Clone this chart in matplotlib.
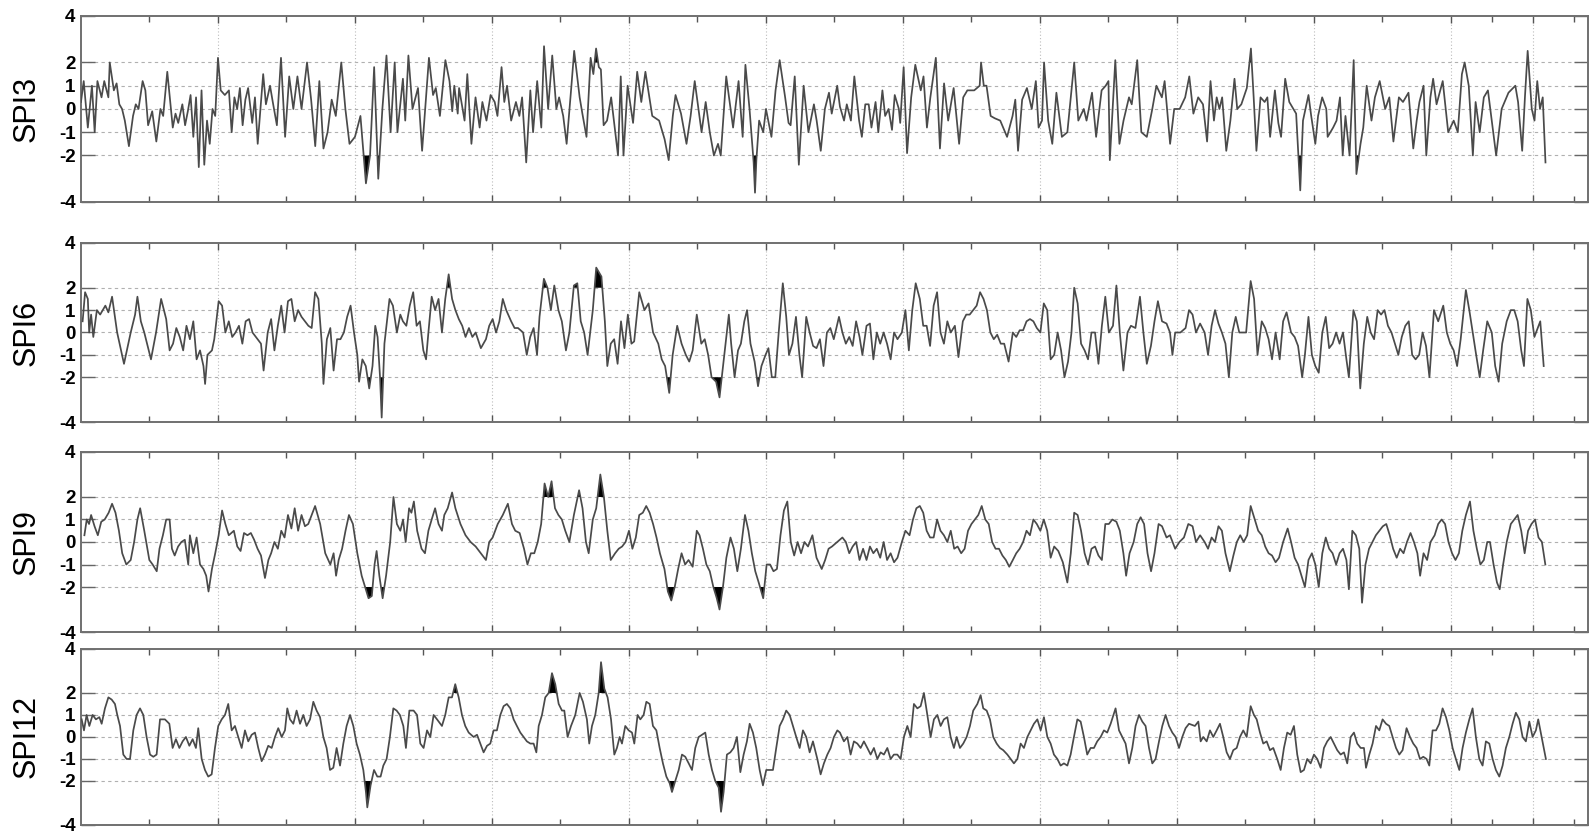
import numpy as np
import matplotlib
matplotlib.use("Agg")
import matplotlib.pyplot as plt

plt.rcParams["font.family"] = ["Liberation Sans", "DejaVu Sans"]

labels = ["SPI3", "SPI6", "SPI9", "SPI12"]
yticks = [-4, -2, -1, 0, 1, 2, 4]
grid_y = [-2, -1, 0, 1, 2]
major_x = [10, 20, 30, 40, 50, 60, 70, 80, 90, 100, 106]
minor_x = [5, 15, 25, 35, 45, 55, 65, 75, 85, 95, 103, 109]

# (time in years, SPI value)
spi3 = [
    (0.0, 0.3), (0.2, 1.2), (0.5, -0.8), (0.8, 1.0), (1.0, -1.0), (1.2, 1.2), (1.5, 0.5), (1.7, 1.2),
    (2.0, 0.5), (2.1, 2.0), (2.4, 0.8), (2.6, 1.1), (2.8, 0.2), (3.0, 0.0), (3.2, -0.5), (3.5, -1.6),
    (3.8, -0.3), (4.0, 0.2), (4.2, 0.0), (4.5, 1.2), (4.7, 0.8), (4.9, -0.7), (5.2, -0.1), (5.5, -1.4),
    (5.8, 0.0), (6.0, -0.3), (6.3, 1.6), (6.5, 0.4), (6.7, -0.8), (6.9, -0.2), (7.1, -0.6), (7.4, 0.2),
    (7.6, -0.7), (7.8, -0.1), (8.0, 0.6), (8.2, -1.2), (8.4, 0.5), (8.6, -2.5), (8.8, 0.8), (9.0, -2.4),
    (9.2, -0.5), (9.4, -1.5), (9.6, 0.0), (9.8, -0.3), (10.0, 2.2), (10.2, 0.8), (10.5, 0.6), (10.8, 0.8),
    (11.0, -1.0), (11.2, 0.5), (11.4, 0.0), (11.6, 0.9), (11.8, -0.7), (12.0, 0.4), (12.2, 0.9), (12.5, -0.6),
    (12.7, 0.5), (12.9, -1.5), (13.3, 1.5), (13.5, 0.2), (13.8, 1.0), (14.0, 0.3), (14.3, -0.7), (14.6, 2.2),
    (14.9, -1.2), (15.2, 1.4), (15.5, 0.0), (15.8, 1.4), (16.1, 0.0), (16.5, 2.0), (16.8, 0.4), (17.1, -1.6),
    (17.4, 1.2), (17.7, -1.7), (18.0, -1.0), (18.3, 0.4), (18.6, -0.3), (19.0, 2.0), (19.3, 0.0), (19.6, -1.5),
    (20.0, -1.2), (20.4, -0.3), (20.8, -3.2), (21.1, -2.0), (21.4, 1.8), (21.7, -3.0), (22.0, 0.0), (22.3, 2.3),
    (22.6, -1.0), (22.9, 2.0), (23.1, -1.0), (23.5, 1.3),
    (23.67, -0.5), (23.9, 2.3), (24.2, 0.0), (24.6, 0.9), (24.9, -1.8), (25.4, 2.2), (25.7, 0.6), (25.9, 0.9),
    (26.2, -0.3), (26.6, 2.1), (26.9, 1.2), (27.1, -0.1), (27.25, 1.0), (27.5, -0.2), (27.6, 0.9), (28.0, -0.5),
    (28.2, 1.5), (28.5, -1.5), (28.8, 0.5), (29.1, -0.8), (29.3, 0.3), (29.6, -0.5), (29.9, 0.6), (30.2, 0.3),
    (30.4, -0.3), (30.7, 1.8), (30.9, 0.3), (31.1, 1.0), (31.4, -0.5), (31.75, 0.3), (32.0, -0.3), (32.2, 0.5),
    (32.5, -2.3), (32.8, 0.8), (33.0, -1.0), (33.3, 1.2), (33.6, -0.8), (33.8, 2.7), (34.1, 0.0), (34.4, 2.3),
    (34.7, 0.0), (34.9, 0.5), (35.2, -0.3), (35.45, -1.5), (35.8, 1.0), (36.0, 2.5), (36.4, 0.5), (36.6, -0.2),
    (36.9, -1.2), (37.2, 2.2), (37.4, 1.5), (37.6, 2.6), (37.8, 1.8), (37.95, 1.7), (38.15, -0.7), (38.4, -0.5),
    (38.7, 0.5), (38.9, -0.5), (39.2, -2.0), (39.4, 1.4), (39.6, -2.0), (39.9, 1.0), (40.3, -0.6), (40.6, 1.6),
    (40.9, 0.3), (41.2, 1.6), (41.7, -0.3), (42.2, -0.5), (42.6, -1.3), (42.9, -2.2), (43.2, -0.3), (43.4, 0.6),
    (43.8, -0.2), (44.2, -1.5), (44.5, -0.3), (44.8, 1.2), (45.3, -1.0), (45.6, 0.3), (45.9, -1.0), (46.2, -2.0),
    (46.5, -1.5), (46.7, -2.0), (47.1, 1.4), (47.6, -0.8), (48.0, 1.2), (48.3, -1.2), (48.5, 1.9), (48.8, 0.0),
    (49.1, -2.3), (49.2, -3.6), (49.3, -2.2), (49.5, -0.5), (49.8, -1.0), (50.0, 0.0), (50.4, -1.2), (50.7, 0.8),
    (51.0, 2.1), (51.4, 0.5), (51.65, -0.6), (51.8, -0.7), (52.1, 1.4), (52.4, -2.4),
    (52.75, 1.0), (53.1, -1.0), (53.5, 0.2), (53.7, -0.5), (54.0, -1.8), (54.3, 0.0), (54.6, 0.7), (54.8, -0.2),
    (55.2, 1.0), (55.4, 0.1), (55.7, -0.5), (55.9, 0.2), (56.2, -0.5), (56.45, 1.4), (56.8, -0.5), (57.0, -1.2),
    (57.25, 0.2), (57.5, 0.2), (57.7, -0.8), (58.0, 0.3), (58.2, -1.0), (58.5, 0.8), (58.7, -0.3), (58.95, 0.0),
    (59.2, -0.9), (59.4, 0.6), (59.7, 0.0), (59.8, -0.6), (60.05, 1.8), (60.3, -1.9), (60.6, 0.5), (60.9, 1.9),
    (61.3, 0.8), (61.5, 1.4), (61.75, -0.8), (62.0, 0.5), (62.4, 2.2), (62.7, -1.7), (63.0, 1.1), (63.3, -0.5),
    (63.7, 0.9), (64.1, -1.5), (64.4, 0.5), (64.7, 0.8), (65.2, 0.8), (65.6, 1.0), (65.7, 2.0), (65.9, 1.0),
    (66.1, 1.0), (66.4, -0.3), (66.7, -0.4), (67.1, -0.5), (67.6, -1.2), (68.0, -0.3), (68.2, 0.4), (68.4, -1.8),
    (68.7, 0.4), (69.05, 0.9), (69.4, 0.0), (69.7, 1.2), (69.9, -0.8), (70.15, -0.5), (70.3, 2.0), (70.6, -0.5),
    (70.9, -1.5), (71.2, 0.7), (71.6, -1.2), (72.0, -1.0), (72.5, 2.0), (72.8, -0.5), (73.2, 0.0), (73.4, -0.5),
    (73.8, 0.7), (74.1, -1.2), (74.5, 0.8), (74.8, 1.0), (75.0, 1.2), (75.1, -2.2), (75.5, 2.1), (75.8, -1.5),
    (76.1, -0.5), (76.5, 0.5), (76.7, 0.2), (77.1, 2.1), (77.4, -1.0), (77.8, -1.2), (78.2, 0.0), (78.5, 1.0),
    (78.9, 0.5), (79.1, 1.2), (79.5, -1.5), (79.8, 0.0), (80.2, 0.0), (80.6, 0.5), (80.9, 1.4),
    (81.2, -0.2), (81.55, 0.5), (81.9, 0.2), (82.2, -1.4), (82.45, 1.2), (82.7, -0.5), (82.9, 0.5), (83.1, 0.0),
    (83.3, 0.5), (83.6, -1.8), (83.9, -0.5), (84.2, 1.3), (84.4, 0.0), (84.7, 0.2), (85.1, 0.9), (85.4, 2.6),
    (85.6, 0.5), (85.8, -1.8), (86.1, 0.5), (86.4, 0.3), (86.6, 0.5), (86.8, -1.2), (87.15, 0.8), (87.4, -0.6),
    (87.6, -1.2), (87.9, 1.3), (88.2, 0.3), (88.5, 0.0), (88.7, -0.2), (89.0, -3.5), (89.2, -0.5), (89.6, 0.6),
    (89.8, -0.3), (90.1, -1.5), (90.3, -0.3), (90.6, 0.5), (90.9, 0.0), (91.0, -1.2), (91.4, -0.8), (91.65, -0.5),
    (91.9, 0.5), (92.1, -2.0), (92.3, -0.3), (92.6, -2.0), (92.9, 2.1), (93.1, -2.8), (93.4, -1.5), (93.6, -0.8),
    (93.85, 1.0), (94.2, -0.5), (94.45, 0.5), (94.8, 1.2), (95.2, 0.0), (95.5, 0.5), (95.8, -1.4), (96.2, 0.5),
    (96.5, 0.3), (96.9, 0.7), (97.25, -1.7), (97.5, -0.5), (97.7, 0.3), (98.0, 1.0), (98.2, -2.0), (98.5, 0.5),
    (98.7, 1.3), (98.95, 0.2), (99.4, 1.2), (99.8, -1.0), (100.2, -0.5), (100.5, -1.0), (100.8, 1.5), (101.0, 2.0),
    (101.3, 1.0), (101.6, -2.0), (101.8, 0.3), (102.1, -1.0), (102.4, 0.5), (102.7, 0.8), (103.3, -2.0), (103.7, 0.0),
    (104.2, 0.7), (104.7, 1.0), (104.9, 0.3), (105.2, -1.8), (105.4, 0.5), (105.6, 2.5), (105.9, 0.0), (106.1, -0.5),
    (106.3, 1.2), (106.5, 0.0), (106.7, 0.5), (106.9, -2.3),
]

spi6 = [
    (0.12, 0.5), (0.3, 1.8), (0.5, 1.5), (0.6, 0.0), (0.74, 0.8), (0.9, -0.2), (1.16, 1.0), (1.4, 0.8),
    (1.78, 1.2), (2.0, 0.9), (2.27, 1.6), (2.64, 0.0), (3.14, -1.4), (3.63, 0.0), (3.95, 0.8), (4.12, 1.6),
    (4.37, 0.5), (4.62, 0.0), (5.11, -1.2), (5.48, 0.0), (5.85, 1.5), (6.22, 0.6), (6.47, -0.8), (6.72, -0.5),
    (6.96, 0.2), (7.21, -0.2), (7.46, -0.8), (7.7, 0.3), (7.95, -0.3), (8.2, 0.5), (8.44, -1.2), (8.69, -0.8),
    (8.94, -1.5), (9.06, -2.3), (9.23, -1.0), (9.56, -0.8), (9.73, -0.3), (10.05, 1.4), (10.3, 1.2), (10.54, 0.0),
    (10.79, 0.5), (11.04, -0.2), (11.28, 0.0), (11.53, 0.3), (11.78, -0.5), (12.02, 0.5), (12.27, 0.6), (12.52, 0.0),
    (12.89, -0.3), (13.14, -0.5), (13.33, -1.7), (13.63, 0.0), (13.88, 0.6), (14.12, -0.8), (14.37, 0.3), (14.62, 1.2),
    (14.86, 0.0), (15.11, 1.4), (15.36, 1.5), (15.6, 0.5), (15.85, 1.0), (16.1, 0.7), (16.35, 0.5), (16.6, 0.3),
    (16.84, 0.2), (17.09, 1.8), (17.33, 1.5), (17.58, -0.5), (17.7, -2.3), (17.95, -0.3), (18.2, 0.2), (18.44, -1.7),
    (18.69, -0.3), (18.94, -0.3), (19.19, 0.0), (19.43, 0.7), (19.68, 1.2), (19.93, 0.0), (20.17, -1.0), (20.3, -2.2),
    (20.54, -1.2), (20.79, -1.5), (21.04, -2.5), (21.28, -1.5), (21.48, 0.3), (21.65, -0.2), (21.83, -2.0), (21.95, -3.8),
    (22.15, -0.5), (22.52, 1.5), (22.77, 1.2), (23.06, 0.0), (23.31, 0.8), (23.5, 0.5), (23.75, 0.3), (24.0, 1.2),
    (24.25, 1.8), (24.5, 0.3), (24.74, 0.5), (24.99, -0.8), (25.19, -1.2), (25.36, 0.0), (25.6, 1.6), (25.85, 1.0),
    (26.1, 1.5), (26.35, 0.0), (26.59, 1.5), (26.84, 2.6), (27.09, 1.5), (27.33, 1.0), (27.58, 0.6), (27.83, 0.3),
    (28.07, -0.2), (28.32, 0.2), (28.57, -0.2), (28.81, 0.0), (29.19, -0.7), (29.56, -0.3), (29.8, 0.3), (30.05, 0.6),
    (30.3, 0.0), (30.54, 0.5), (30.79, 1.5), (31.04, 1.0), (31.4, 0.5), (31.65, 0.2), (31.9, 0.2), (32.27, 0.0),
    (32.54, -1.0), (32.79, -0.2), (33.04, 0.2), (33.29, -1.0), (33.47, 0.7), (33.79, 2.4), (34.05, 2.0), (34.3, 1.0),
    (34.55, 2.1), (34.85, 1.0), (35.1, 0.5), (35.4, -0.8), (35.65, 0.0), (35.98, 2.1), (36.23, 2.2), (36.48, 0.5),
    (36.73, 0.0), (36.98, -1.0), (37.36, 1.0), (37.61, 2.9), (37.99, 2.5), (38.24, 0.5), (38.42, -1.5), (38.67, -0.5),
    (38.92, -0.3), (39.17, -1.4), (39.42, 0.5), (39.67, -0.7), (39.92, 0.8), (40.18, -0.5), (40.38, -0.4), (40.75, 1.8),
    (41.13, 1.0), (41.43, 1.3), (41.76, 0.0), (42.14, -0.5), (42.39, -1.2), (42.64, -1.5), (42.94, -2.7), (43.19, -1.0),
    (43.52, 0.3), (43.84, -0.5), (44.15, -1.0), (44.4, -1.3), (44.65, -0.8), (44.95, 0.8), (45.28, -0.5), (45.53, -0.3),
    (45.78, -1.0), (46.03, -2.0), (46.36, -2.2), (46.61, -2.9), (46.96, -1.0), (47.29, 0.8), (47.46, -0.5), (47.71, -2.0),
    (47.96, -0.8), (48.17, -0.5), (48.42, 0.5), (48.62, 1.0), (48.87, -0.5), (49.17, -1.3), (49.42, -2.4), (49.67, -1.5),
    (49.97, -1.0), (50.18, -0.7), (50.43, -2.0), (50.68, -2.0), (50.93, 0.0), (51.23, 2.2), (51.48, 0.7), (51.68, -1.0),
    (51.93, -0.5), (52.19, 0.7), (52.44, -1.0), (52.64, -2.0), (52.94, 0.7), (53.19, 0.0), (53.44, -0.6), (53.69, -0.7),
    (53.94, -0.3), (54.2, -1.5), (54.45, 0.0), (54.7, 0.2), (54.95, -0.3), (55.33, 0.7), (55.58, 0.0), (55.83, -0.5),
    (56.08, -0.2), (56.33, -0.6), (56.58, 0.5), (56.83, -0.2), (57.04, -1.0), (57.34, 0.3), (57.59, 0.4), (57.84, -1.2),
    (58.09, 0.0), (58.34, -0.5), (58.59, 0.0), (58.84, -0.5), (59.1, -1.2), (59.35, 0.0), (59.6, -0.3), (59.92, 0.0),
    (60.18, 1.0), (60.43, -0.8), (60.68, 1.0), (60.93, 2.2), (61.23, 1.5), (61.48, 0.3), (61.73, 0.3), (61.98, -0.6),
    (62.24, 1.2), (62.49, 1.8), (62.74, 0.0), (62.99, -0.5), (63.24, 0.5), (63.49, 0.0), (63.79, 0.3), (64.05, -1.1),
    (64.37, 0.5), (64.62, 0.8), (64.87, 0.8), (65.13, 1.0), (65.38, 1.2), (65.63, 1.8), (65.88, 1.5), (66.13, 1.0),
    (66.38, 0.0), (66.63, -0.3), (66.88, -0.1), (67.14, -0.5), (67.39, -0.5), (67.71, -1.3), (68.02, 0.0), (68.27, -0.2),
    (68.52, 0.1), (68.77, 0.1), (69.02, 0.5), (69.27, 0.6), (69.52, 0.5), (69.77, 0.2), (70.03, 0.0), (70.28, 1.3),
    (70.53, 1.0),
    (70.78, -1.2), (71.04, -1.0), (71.29, 0.0), (71.54, -0.8), (71.79, -2.0), (72.05, -1.3), (72.3, 0.0), (72.5, 2.0),
    (72.75, 1.3), (73.0, -0.5), (73.26, -0.8), (73.51, -1.2), (73.76, 0.0), (74.02, 0.0), (74.27, -1.4), (74.52, 0.3),
    (74.77, 1.6), (75.03, 0.0), (75.33, 0.3), (75.58, 2.1), (75.83, 0.0), (76.09, -1.7), (76.39, 0.0), (76.64, 0.3),
    (76.97, 0.2), (77.3, 1.6), (77.55, 0.0), (77.8, -1.4), (78.1, -0.6), (78.36, 0.5), (78.61, 1.4), (78.91, 0.5),
    (79.24, 0.4), (79.49, 0.0), (79.67, -1.0), (79.87, 0.0), (80.25, 0.0), (80.63, 0.2), (80.88, 1.0), (81.14, 0.8),
    (81.39, 0.0), (81.69, 0.4), (82.02, 0.0), (82.27, -1.0), (82.53, 0.3), (82.78, 1.0), (83.03, 0.4), (83.28, 0.0),
    (83.54, -0.5), (83.79, -2.0), (84.04, 0.0), (84.29, 0.7), (84.55, 0.0), (84.8, 0.0), (85.05, 0.0), (85.38, 2.3),
    (85.63, 1.5), (85.88, -1.0), (86.19, 0.5), (86.44, 0.2), (86.69, -0.3), (86.94, -1.2), (87.2, 0.0), (87.5, -1.2),
    (87.75, 0.5), (88.0, 0.9), (88.33, 0.0), (88.59, -0.2), (88.84, -0.6), (89.14, -2.0), (89.34, -1.0), (89.6, 0.7),
    (89.85, -1.0), (90.1, -1.5), (90.35, -1.8), (90.61, 0.0), (90.86, 0.7), (91.11, -0.7), (91.36, -0.5), (91.62, 0.0),
    (91.87, -0.5), (92.12, 0.0), (92.37, -1.2), (92.55, -2.0), (92.88, 1.0), (93.13, 0.5), (93.38, -2.5), (93.64, -0.5),
    (93.89, 0.7), (94.14, 0.0), (94.39, -0.3), (94.65, 1.0), (94.9, 0.8), (95.15, 1.0), (95.4, 0.3), (95.66, 0.0),
    (95.91, -0.5), (96.16, -1.0), (96.41, -0.2), (96.67, 0.3), (96.92, 0.5), (97.17, -1.0), (97.42, -1.2), (97.68, -1.0),
    (97.93, 0.0), (98.18, -0.6), (98.43, -2.0), (98.76, 1.0), (99.07, 0.5), (99.44, 1.2), (99.7, 0.0), (99.95, -0.5),
    (100.2, -0.8), (100.45, -1.5), (100.71, -0.3), (101.09, 1.9), (101.34, 1.0), (101.59, 0.0), (101.84, -1.0), (102.1, -2.0),
    (102.35, -0.8), (102.65, 0.5), (102.98, 0.0), (103.23, -1.5), (103.48, -2.2), (103.74, -0.5), (104.07, 0.5), (104.37, 1.0),
    (104.62, 1.0), (104.87, 0.5), (105.13, -0.8), (105.33, -1.5), (105.58, 1.5), (105.83, 1.0), (106.09, -0.2), (106.34, 0.2),
    (106.52, 0.5), (106.77, -1.5),
]

spi9 = [
    (0.25, 0.3), (0.42, 1.0), (0.59, 0.8), (0.74, 1.2), (0.99, 0.7), (1.23, 0.3), (1.48, 0.9), (1.73, 1.0),
    (2.02, 1.3), (2.27, 1.7), (2.52, 1.3), (2.77, 0.5), (3.01, -0.5), (3.31, -1.0), (3.63, -0.8), (3.88, 0.0),
    (4.12, 1.0), (4.32, 1.5), (4.62, 0.5), (4.99, -0.8), (5.23, -1.0), (5.53, -1.3), (5.73, -0.3), (5.98, 0.3),
    (6.22, 1.0), (6.47, 1.0), (6.64, -0.3), (6.84, -0.6), (7.09, -0.2), (7.33, 0.0), (7.58, 0.1), (7.83, -1.0),
    (7.95, 0.3), (8.2, -0.5), (8.44, 0.2), (8.69, -1.0), (8.94, -1.2), (9.14, -1.5), (9.31, -2.2), (9.56, -1.2),
    (9.8, -0.5), (10.05, 0.3), (10.3, 1.4), (10.54, 0.8), (10.79, 0.3), (11.16, 0.5), (11.41, -0.2), (11.65, -0.4),
    (11.9, 0.4), (12.15, 0.3), (12.4, 0.4), (12.64, 0.1), (12.89, -0.3), (13.14, -0.6), (13.43, -1.6), (13.68, -0.8),
    (13.88, -0.5), (14.12, 0.0), (14.37, -0.3), (14.62, 0.5), (14.86, 0.2), (15.11, 1.2), (15.36, 0.6), (15.6, 1.5),
    (15.85, 0.5), (16.1, 1.2), (16.35, 0.7), (16.59, 0.8), (16.84, 1.2), (17.09, 1.6), (17.46, 0.8), (17.83, -0.5),
    (18.2, -1.0), (18.44, -0.5), (18.62, -1.5), (18.81, -0.8), (19.06, -0.3), (19.31, 0.5), (19.56, 1.2), (19.85, 0.8),
    (20.17, -0.5), (20.49, -1.5), (20.74, -2.0), (20.99, -2.5), (21.23, -2.4), (21.43, -1.0), (21.58, -0.4), (21.78, -1.5),
    (22.02, -2.5), (22.27, -1.5), (22.57, 0.0), (22.81, 2.0), (23.06, 0.8), (23.31, 0.5), (23.51, 1.0), (23.7, 0.0),
    (23.95, 1.5), (24.12, 1.3), (24.3, 1.8), (24.54, 0.5), (24.86, -0.3), (25.11, -0.5), (25.36, 0.5), (25.6, 1.0),
    (25.85, 1.5), (26.1, 0.8), (26.35, 0.5), (26.52, 1.2), (26.77, 1.5), (27.09, 2.2), (27.33, 1.5), (27.7, 0.8),
    (28.07, 0.3), (28.44, 0.0), (28.81, -0.2), (29.19, -0.5), (29.56, -0.8), (29.8, 0.0), (30.05, 0.2), (30.42, 0.8),
    (30.79, 1.2), (31.16, 1.7), (31.46, 0.8), (31.7, 0.5), (32.02, 0.4),
    (32.34, -0.3), (32.59, -1.0), (32.84, -0.5), (33.09, -0.5), (33.34, 0.0), (33.59, 0.8), (33.84, 2.6), (34.1, 2.0),
    (34.35, 2.7), (34.6, 1.5), (34.85, 1.2), (35.1, 1.0), (35.35, 0.5), (35.65, 0.0), (35.98, 1.2), (36.36, 2.3),
    (36.61, 1.5), (36.86, 0.0), (37.06, -0.5), (37.36, 1.0), (37.61, 1.5), (37.91, 3.0), (38.17, 2.0), (38.42, 0.5),
    (38.67, -0.8), (38.99, -0.5), (39.25, -0.3), (39.5, -0.2), (39.75, 0.0), (40.0, 0.5), (40.25, -0.3), (40.5, 0.2),
    (40.75, 1.2), (41.01, 1.3), (41.26, 1.6), (41.51, 1.3), (41.76, 0.8), (42.01, 0.2), (42.26, -0.5), (42.59, -1.2),
    (42.84, -2.2), (43.09, -2.6), (43.34, -2.0), (43.59, -1.2), (43.84, -0.5), (44.1, -1.0), (44.35, -0.8), (44.65, -1.1),
    (44.95, 0.5), (45.15, 0.3), (45.4, -0.3), (45.65, -1.0), (45.9, -1.3), (46.16, -2.0), (46.41, -2.5), (46.61, -3.0),
    (46.86, -2.0), (47.11, -0.7), (47.41, 0.2), (47.66, -0.3), (47.91, -1.3), (48.17, -0.3), (48.47, 1.2), (48.72, 0.5),
    (48.97, -0.5), (49.22, -1.3), (49.47, -1.8), (49.8, -2.5), (50.05, -1.0), (50.3, -1.0), (50.55, -1.3), (50.8, -1.2),
    (51.06, 0.3), (51.31, 1.4), (51.56, 1.8), (51.81, 0.0), (52.06, -0.6), (52.31, 0.0), (52.56, -0.5), (52.81, 0.0),
    (53.07, -0.2), (53.39, 0.3), (53.69, -0.7), (54.07, -1.2), (54.32, -0.8), (54.57, -0.3), (54.82, -0.2), (55.2, 0.0),
    (55.58, 0.2), (55.83, 0.0), (56.08, -0.5), (56.33, -0.2), (56.58, 0.0), (56.83, -0.8), (57.09, -0.3), (57.34, -0.8),
    (57.59, -0.2), (57.84, -0.5), (58.09, -0.3), (58.34, -0.7), (58.59, 0.0), (58.84, -0.8), (59.1, -0.5), (59.35, -0.9),
    (59.6, -0.7), (59.92, 0.0), (60.18, 0.5), (60.48, 0.3), (60.73, 1.0), (60.98, 1.5), (61.23, 1.6), (61.48, 1.3),
    (61.73, 0.5), (61.98, 0.2), (62.24, 0.2), (62.49, 1.0), (62.74, 0.5), (62.99, 0.3), (63.24, 0.0), (63.49, 0.5),
    (63.74, -0.3), (63.99, -0.2), (64.25, -0.5), (64.5, -0.3), (64.75, 0.5), (65.0, 0.8), (65.25, 1.0), (65.5, 1.2),
    (65.75, 1.6), (66.01, 1.0), (66.26, 0.8), (66.51, 0.0), (66.76, -0.3), (67.01, -0.3), (67.26, -0.6), (67.51, -0.8),
    (67.76, -1.1), (68.02, -0.8), (68.27, -0.5), (68.52, -0.3), (68.77, 0.0), (69.02, 0.5), (69.27, 0.3), (69.52, 1.0),
    (69.77, 0.8), (70.03, 0.5), (70.28, 1.0), (70.53, 0.5),
    (70.78, -0.7), (71.04, -0.2), (71.34, -0.4), (71.67, -0.9), (72.0, -1.8), (72.25, -0.5), (72.5, 1.3), (72.75, 1.2),
    (73.0, 0.5), (73.26, -0.5), (73.51, -1.0), (73.76, -0.3), (74.02, -0.2), (74.27, -0.6), (74.52, -0.8), (74.77, 0.8),
    (75.03, 0.8), (75.28, 1.0), (75.58, 0.9), (75.83, 0.5), (76.09, -0.5), (76.29, -1.5), (76.54, -0.5), (76.84, 0.0),
    (77.1, 0.8), (77.35, 1.1), (77.6, 0.8), (77.85, -0.5), (78.11, -1.3), (78.36, -0.5), (78.66, 0.8), (78.91, 0.7),
    (79.24, 0.2), (79.49, 0.3), (79.87, -0.3), (80.18, 0.0), (80.51, 0.2), (80.83, 0.8), (81.14, 0.7), (81.39, 0.0),
    (81.69, 0.3), (82.02, 0.0), (82.27, -0.3), (82.53, 0.2), (82.78, 0.0), (83.03, 0.7), (83.28, 0.5), (83.54, -0.5),
    (83.86, -1.3), (84.12, -0.6), (84.37, 0.0), (84.62, 0.3), (84.87, 0.0), (85.13, 0.3), (85.38, 1.6), (85.68, 1.0),
    (85.93, 0.5), (86.19, 0.3), (86.44, -0.2), (86.69, -0.5), (86.94, -0.6), (87.2, -0.9), (87.45, -0.7), (87.75, 0.0),
    (88.08, 0.6), (88.33, 0.0), (88.59, -0.7), (88.84, -1.0), (89.09, -1.5), (89.34, -2.0), (89.6, -0.8), (89.85, -0.5),
    (90.1, -1.0), (90.35, -2.0), (90.61, -0.5), (90.86, 0.2), (91.11, -0.3), (91.36, -0.5), (91.62, -1.0), (91.87, -0.5),
    (92.12, -0.3), (92.37, -0.8), (92.55, -2.1), (92.8, 0.5), (93.06, 0.3), (93.31, -0.3), (93.51, -2.7), (93.76, -1.0),
    (94.02, -0.3), (94.27, 0.0), (94.52, 0.3), (94.77, 0.5), (95.03, 0.7), (95.28, 0.8), (95.53, 0.3), (95.78, -0.3),
    (96.04, -0.7), (96.29, -0.3), (96.54, -0.5), (96.79, 0.0), (97.05, 0.4), (97.3, 0.0), (97.55, -0.5), (97.75, -1.5),
    (98.0, -0.5), (98.26, -0.8), (98.51, 0.0), (98.81, 0.3), (99.07, 0.8), (99.32, 1.0), (99.57, 0.8), (99.82, 0.0),
    (100.08, -0.5), (100.33, -0.8), (100.58, -0.5), (100.83, 0.5), (101.09, 1.2), (101.39, 1.8), (101.64, 0.5), (101.89, -0.3),
    (102.15, -1.0), (102.4, -0.8), (102.65, 0.0), (102.85, 0.0), (103.11, -1.0), (103.36, -1.8), (103.56, -2.1), (103.81, -1.0),
    (104.07, 0.0), (104.37, 0.8), (104.62, 1.0), (104.87, 1.2), (105.13, 0.5), (105.38, -0.5), (105.63, 0.5), (105.88, 0.8),
    (106.14, 1.0), (106.39, 0.2), (106.64, 0.0), (106.89, -1.0),
]

spi12 = [
    (0.05, 0.8), (0.22, 0.3), (0.41, 1.0), (0.61, 0.5), (0.85, 1.0), (1.09, 0.8), (1.34, 0.9), (1.51, 0.6),
    (1.75, 1.3), (2.0, 1.8), (2.24, 1.7), (2.48, 1.5), (2.65, 1.0), (2.85, 0.5), (3.09, -0.8), (3.33, -1.0),
    (3.58, -1.0), (3.82, 0.3), (4.06, 1.0), (4.31, 1.3), (4.55, 1.0), (4.79, 0.0), (5.04, -0.8), (5.28, -0.9),
    (5.52, -0.8), (5.77, 0.8), (6.13, 0.8), (6.45, 0.6), (6.69, -0.5), (6.93, -0.1), (7.18, -0.5), (7.42, -0.2),
    (7.66, 0.0), (7.91, -0.4), (8.15, -0.1), (8.39, -0.5), (8.56, 0.4), (8.81, -1.0), (9.05, -1.5), (9.29, -1.8),
    (9.54, -1.7), (9.78, -0.5), (10.02, 0.5), (10.27, 0.8), (10.51, 1.0), (10.75, 1.5), (11.0, 0.3), (11.24, 0.5),
    (11.48, 0.0), (11.73, -0.5), (11.97, 0.3), (12.21, -0.2), (12.46, 0.1), (12.7, 0.2), (12.94, -0.5), (13.19, -1.1),
    (13.43, -0.8), (13.67, -0.4), (13.92, -0.5), (14.16, 0.0), (14.4, 0.4), (14.65, 0.0), (14.89, 0.3), (15.06, 1.3),
    (15.26, 0.8), (15.5, 0.6), (15.74, 1.2), (15.99, 0.6), (16.23, 1.0), (16.47, 0.5), (16.72, 0.8), (16.96, 1.6),
    (17.2, 1.2), (17.45, 0.9), (17.69, 0.0), (17.93, -0.5), (18.18, -1.5), (18.42, -1.4), (18.66, -0.5), (18.91, -1.3),
    (19.15, -0.3), (19.39, 0.5), (19.64, 1.0), (19.88, 0.5), (20.12, -0.3), (20.36, -0.8), (20.61, -1.5), (20.8, -2.5),
    (20.9, -3.2), (21.14, -2.2), (21.39, -1.5), (21.63, -1.8), (21.87, -1.8), (22.07, -1.3), (22.31, -1.0), (22.55, 0.0),
    (22.8, 1.3), (23.04, 1.2), (23.28, 1.0), (23.53, 0.5), (23.72, -0.5), (23.97, 1.2),
    (24.28, 1.2), (24.53, 1.0), (24.77, -0.3), (25.01, -0.5), (25.26, 0.3), (25.5, 0.0), (25.74, 1.0), (25.99, 0.8),
    (26.35, 0.5), (26.59, 1.0), (26.84, 1.8), (27.08, 1.8), (27.32, 2.4), (27.57, 1.8), (27.81, 1.0), (28.05, 0.5),
    (28.3, 0.2), (28.66, 0.0), (28.91, 0.1), (29.15, -0.3), (29.39, -0.7), (29.64, -0.4), (29.88, -0.3), (30.12, 0.3),
    (30.36, 0.3), (30.61, 1.0), (30.85, 1.4), (31.09, 1.5), (31.34, 1.3), (31.58, 0.8), (31.82, 0.5), (32.07, 0.2),
    (32.31, 0.0), (32.55, -0.2), (32.8, -0.3), (33.04, -0.3), (33.24, -0.7), (33.41, 0.5), (33.65, 1.0), (33.89, 1.8),
    (34.14, 2.0), (34.38, 2.9), (34.62, 2.4), (34.87, 1.5), (35.11, 1.2), (35.28, 1.2), (35.52, 0.0), (35.77, 0.5),
    (36.08, 1.0), (36.4, 2.0), (36.64, 1.6), (36.93, 0.8), (37.1, -0.3), (37.3, 0.5), (37.54, 1.0), (37.79, 2.0),
    (37.96, 3.4), (38.2, 2.2), (38.44, 1.8), (38.69, 0.8), (38.93, -0.8), (39.12, -0.5), (39.32, 0.0), (39.49, -0.3),
    (39.73, 0.5), (39.98, 0.3), (40.22, 0.2), (40.39, -0.3), (40.63, 1.0), (40.83, 0.8), (41.07, 1.0), (41.27, 1.6),
    (41.51, 1.5), (41.75, 0.5), (42.0, 0.3), (42.24, -0.5), (42.48, -1.2), (42.73, -1.8), (42.97, -2.1), (43.14, -2.5),
    (43.38, -2.0), (43.63, -1.5), (43.87, -0.8), (44.11, -0.9), (44.36, -1.2), (44.6, -1.5), (44.84, -0.5), (45.09, 0.0),
    (45.33, 0.1), (45.57, 0.2), (45.82, -0.8), (46.06, -1.5), (46.3, -2.0), (46.55, -2.3), (46.72, -3.4), (46.91, -2.5),
    (47.15, -0.8), (47.4, -0.7), (47.64, -0.5), (47.88, 0.0), (48.13, -1.6), (48.37, -0.8), (48.61, -0.2), (48.81, 0.6),
    (49.05, 0.2), (49.29, -0.5), (49.54, -1.5), (49.78, -2.2), (50.02, -1.5), (50.27, -1.5), (50.51, -1.5), (50.75, -0.5),
    (51.0, 0.5), (51.24, 0.8), (51.48, 1.2), (51.73, 1.0), (51.97, 0.5), (52.21, 0.0), (52.46, -0.5), (52.7, 0.3),
    (52.94, 0.0), (53.19, -0.7), (53.43, -0.2),
    (53.75, -1.0), (53.99, -1.7), (54.23, -1.2), (54.48, -0.8), (54.72, -0.5), (54.96, 0.0), (55.21, 0.3), (55.4, 0.2),
    (55.69, -0.2), (55.94, 0.0), (56.18, -0.8), (56.42, -0.2), (56.67, -0.3), (56.91, -0.5), (57.15, -0.2), (57.4, -0.5),
    (57.64, -0.8), (57.88, -0.5), (58.13, -1.0), (58.37, -0.7), (58.61, -0.8), (58.86, -0.5), (59.1, -1.0), (59.34, -0.8),
    (59.59, -0.8), (59.83, -1.0), (60.07, 0.0), (60.32, 0.5), (60.56, 0.0), (60.8, 1.5), (61.05, 1.3), (61.29, 1.4),
    (61.53, 2.0), (61.78, 1.0), (62.02, 0.0), (62.26, 0.8), (62.51, 1.0), (62.75, 0.5), (62.99, 0.8), (63.24, 0.9),
    (63.48, 0.0), (63.72, -0.5), (63.92, 0.0), (64.16, -0.5), (64.4, -0.3), (64.65, 0.0), (64.89, 0.5), (65.13, 1.2),
    (65.43, 1.5), (65.67, 1.9), (65.86, 1.3), (66.11, 1.2), (66.35, 0.8), (66.59, 0.0), (66.84, -0.3), (67.08, -0.5),
    (67.32, -0.6), (67.62, -0.8), (67.86, -1.0), (68.1, -1.2), (68.35, -1.0), (68.59, -0.3), (68.83, -0.5), (69.08, 0.0),
    (69.32, 0.3), (69.56, 0.6), (69.81, 0.8), (70.05, 0.3), (70.29, 0.9), (70.54, 0.0), (70.78, -0.3), (71.02, -0.8),
    (71.27, -1.0), (71.51, -1.3), (71.75, -1.2), (72.0, -1.3), (72.24, -0.8), (72.48, 0.0), (72.73, 0.8), (72.97, 0.7),
    (73.21, 0.0), (73.45, -0.8), (73.7, -0.5), (73.94, -0.5), (74.18, -0.2), (74.43, 0.0), (74.67, 0.3), (74.91, 0.2),
    (75.16, 0.6), (75.52, 1.3), (75.77, 0.3), (76.01, 0.0), (76.25, -0.3), (76.5, -1.2), (76.74, -0.5), (76.98, 0.5),
    (77.23, 1.0), (77.47, 0.7), (77.71, 0.5), (77.96, -0.5), (78.2, -1.2), (78.44, -1.0), (78.69, -0.2), (78.93, 0.5),
    (79.17, 1.0), (79.42, 0.5), (79.66, 0.2), (79.9, 0.0), (80.15, -0.5), (80.39, 0.0), (80.63, 0.4), (80.88, 0.6),
    (81.31, 0.5), (81.56, 0.7), (81.73, -0.2), (81.92, 0.0), (82.17, -0.2), (82.41, 0.3), (82.65, 0.0), (82.9, 0.3),
    (83.14, 0.6), (83.38, 0.0), (83.63, -0.7), (83.87, -1.0), (84.11, -0.6), (84.36, -0.5), (84.6, 0.0), (84.84, 0.3),
    (85.09, 0.0), (85.38, 1.4), (85.62, 1.0), (85.82, 0.8), (86.06, 0.2), (86.3, -0.3), (86.55, -0.2), (86.79, -0.6),
    (87.03, -0.5), (87.32, -1.0), (87.57, -1.5), (87.81, -0.5), (88.05, 0.2), (88.3, 0.1), (88.54, 0.5), (88.78, -0.8),
    (89.03, -1.6), (89.27, -1.5), (89.51, -1.0), (89.76, -1.2), (90.0, -0.8), (90.24, -1.0), (90.49, -1.4), (90.73, -0.5),
    (90.97, -0.2), (91.22, 0.0), (91.46, -0.3), (91.7, -0.6), (91.95, -0.8), (92.19, -0.7), (92.43, -1.2), (92.68, 0.0),
    (92.92, 0.2), (93.16, -0.3), (93.41, -0.5), (93.65, -0.5), (93.8, -1.4), (94.04, -0.8), (94.28, -0.3), (94.53, 0.5),
    (94.77, 0.3), (95.01, 0.8), (95.26, 0.6), (95.5, 0.5), (95.74, 0.0), (95.99, -0.5), (96.23, -0.8), (96.47, -0.6),
    (96.76, 0.4), (97.01, 0.0), (97.25, -0.3), (97.49, -0.5), (97.74, -1.0), (97.98, -0.9), (98.22, -1.0), (98.42, -1.3),
    (98.66, 0.3), (98.91, 0.3), (99.15, 0.6), (99.39, 1.3), (99.64, 0.9), (99.88, 0.3), (100.12, -0.5), (100.36, -1.0),
    (100.61, -1.5), (100.85, -0.5), (101.09, 0.2), (101.34, 0.8), (101.58, 1.3), (101.82, 0.0), (102.07, -1.0), (102.31, -1.3),
    (102.55, -0.2), (102.8, -0.3), (103.04, -1.0), (103.28, -1.5), (103.53, -1.8), (103.77, -1.3), (104.01, -0.5), (104.26, 0.0),
    (104.5, 0.6), (104.74, 1.1), (104.99, 0.8), (105.23, 0.0), (105.47, -0.2), (105.72, 0.7), (105.96, 0.0), (106.2, 0.3),
    (106.37, 0.8), (106.62, 0.0), (106.93, -1.0),
]

series = [spi3, spi6, spi9, spi12]
# axes boxes [left, bottom, width, height] in figure fraction
boxes = [
    [0.0508, 0.7581, 0.9454, 0.2228],
    [0.0508, 0.4946, 0.9454, 0.2144],
    [0.0508, 0.2431, 0.9454, 0.2156],
    [0.0508, 0.0120, 0.9454, 0.2108],
]

fig = plt.figure(figsize=(15.94, 8.35), dpi=100)

for lab, pts, box in zip(labels, series, boxes):
    ax = fig.add_axes(box)
    t, v = np.array(pts).T
    for y in grid_y:
        ax.axhline(y, color="#b0b0b0", lw=0.8, ls=(0, (3, 3)), zorder=0)
    for x in major_x:
        ax.axvline(x, color="#bcbcbc", lw=0.8, ls=(0, (1, 2)), zorder=0)
    ax.fill_between(t, v, 2, where=v > 2, interpolate=True, color="black", lw=0, zorder=2)
    ax.fill_between(t, v, -2, where=v < -2, interpolate=True, color="black", lw=0, zorder=2)
    ax.plot(t, v, color="#4a4a4a", lw=1.25, zorder=3)
    ax.set_xlim(0, 110)
    ax.set_ylim(-4, 4)
    ax.set_xticks(major_x)
    ax.set_xticks(minor_x, minor=True)
    ax.set_xticklabels([])
    ax.set_yticks(yticks)
    ax.set_yticklabels([str(y) for y in yticks], fontweight="bold", fontsize=13.5)
    ax.tick_params(axis="x", which="major", direction="in", top=True, length=5, width=1, color="#555555")
    ax.tick_params(axis="x", which="minor", direction="in", top=True, length=4, width=1, color="#555555")
    ax.tick_params(axis="y", direction="in", right=True, length=10, width=1, color="#666666", pad=4)
    for s in ax.spines.values():
        s.set_color("#707070")
        s.set_linewidth(1.4)
    cy = box[1] + box[3] / 2
    fig.text(0.017, cy, lab, rotation=90, ha="center", va="center", fontsize=22)

fig.savefig("out.png", dpi=100)
